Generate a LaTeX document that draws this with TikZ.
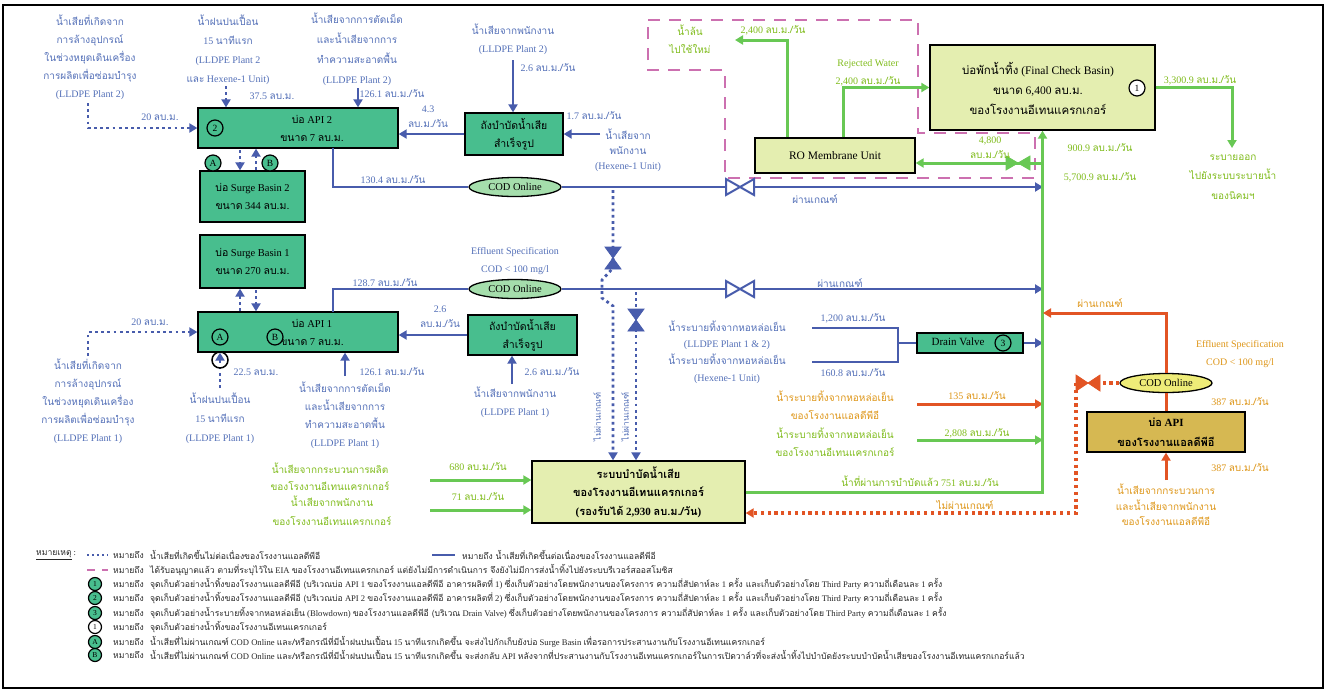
\documentclass[tikz,border=0pt]{standalone}
\usepackage{fontspec}
\setmainfont{Liberation Serif}
\newfontfamily\thaifont[Script=Thai]{Loma}
\newcommand\tha[1]{{\thaifont #1}}
\usetikzlibrary{arrows.meta,shapes.geometric}
\definecolor{boxg}{RGB}{72,190,142}
\definecolor{boxl}{RGB}{228,238,176}
\definecolor{boxo}{RGB}{214,184,82}
\definecolor{lblue}{RGB}{72,92,172}
\definecolor{tblue}{RGB}{84,112,184}
\definecolor{lgreen}{RGB}{104,200,84}
\definecolor{tgreen}{RGB}{128,188,28}
\definecolor{lred}{RGB}{226,84,36}
\definecolor{torange}{RGB}{222,150,24}
\definecolor{pinkd}{RGB}{204,112,176}
\definecolor{codg}{RGB}{165,222,172}
\definecolor{cody}{RGB}{238,236,120}
\newcommand\hvalve[5]{\draw[#5] ({#1-#3},{#2-#4}) -- ({#1+#3},{#2+#4}) -- ({#1+#3},{#2-#4}) -- ({#1-#3},{#2+#4}) -- cycle;}
\newcommand\vvalve[5]{\draw[#5] ({#1-#3},{#2-#4}) -- ({#1+#3},{#2-#4}) -- ({#1-#3},{#2+#4}) -- ({#1+#3},{#2+#4}) -- cycle;}
\begin{document}
\begin{tikzpicture}[x=1pt,y=-1pt,
 lbl/.style={inner sep=0pt, align=center, font=\fontsize{10}{18}\selectfont},
 bl/.style={lbl, text=tblue},
 gl/.style={lbl, text=tgreen},
 ol/.style={lbl, text=torange},
 boxtxt/.style={inner sep=0pt, align=center, font=\fontsize{10.5}{18}\selectfont},
 gbox/.style={draw=black, line width=1.3pt, fill=boxg, inner sep=0pt, align=center, font=\fontsize{10.5}{18}\selectfont},
 lbox/.style={draw=black, line width=1.3pt, fill=boxl, inner sep=0pt, align=center, font=\fontsize{10.5}{18}\selectfont},
 obox/.style={draw=black, line width=1.3pt, fill=boxo, inner sep=0pt, align=center, font=\fontsize{10.5}{20}\selectfont},
 tip/.style={-{Triangle[length=8pt,width=9pt]}},
 bline/.style={draw=lblue, line width=2.8pt},
 gline/.style={draw=lgreen, line width=3pt},
 rline/.style={draw=lred, line width=3pt},
 bdot/.style={draw=lblue, line width=2.8pt, dash pattern=on 2.8pt off 3.4pt},
 rdot/.style={draw=lred, line width=3.2pt, dash pattern=on 3.2pt off 3.6pt},
 pdash/.style={draw=pinkd, line width=2.2pt, dash pattern=on 12pt off 9pt},
 mk/.style={circle, draw=black, line width=1.2pt, fill=boxg, minimum size=16pt, inner sep=0pt, font=\fontsize{9.5}{9.5}\selectfont},
 cod/.style={ellipse, draw=black, line width=1.3pt, fill=codg, minimum width=92pt, minimum height=19pt, inner sep=0pt, font=\fontsize{10.5}{10.5}\selectfont},
 lg/.style={inner sep=0pt, anchor=west, font=\fontsize{8.6}{10}\selectfont, text=black!85},
 lmk/.style={mk, minimum size=13pt, font=\fontsize{7.5}{7.5}\selectfont}]
\useasboundingbox (0,0) rectangle (1327,697);
\fill[white] (0,0) rectangle (1327,697);
\draw[line width=1.8pt] (3,5) rectangle (1323,688);

% pink dashed planned area
\draw[pdash] (648,20) -- (918,20) -- (918,133) -- (1035,133) -- (1035,178) -- (725,178) -- (725,70) -- (648,70) -- cycle;

% ---------- boxes ----------
\node[gbox, minimum width=200pt, minimum height=40pt] (API2) at (298,128) {};
\node[boxtxt] (API2t) at (312,128) {\tha{บ่อ} API 2\\\tha{ขนาด} 7 \tha{ลบ.ม.}};
\node[gbox, minimum width=105pt, minimum height=51pt] (SB2) at (252.5,196.5) {\tha{บ่อ} Surge Basin 2\\\tha{ขนาด} 344 \tha{ลบ.ม.}};
\node[gbox, minimum width=98pt, minimum height=42pt] (T2) at (514,134) {\tha{ถังบำบัดน้ำเสีย}\\\tha{สำเร็จรูป}};
\node[lbox, minimum width=160pt, minimum height=35pt, font=\fontsize{11.5}{18}\selectfont] (RO) at (835,155.5) {RO Membrane Unit};
\node[lbox, minimum width=225pt, minimum height=85pt] (FCB) at (1042.5,87.5) {};
\node[boxtxt, font=\fontsize{11.5}{20}\selectfont] (FCBt) at (1038,88) {\tha{บ่อพักน้ำทิ้ง} (Final Check Basin)\\\tha{ขนาด} 6,400 \tha{ลบ.ม.}\\\tha{ของโรงงานอีเทนแครกเกอร์}};
\node[gbox, minimum width=105pt, minimum height=53pt] (SB1) at (252.5,261.5) {\tha{บ่อ} Surge Basin 1\\\tha{ขนาด} 270 \tha{ลบ.ม.}};
\node[gbox, minimum width=200pt, minimum height=40pt] (API1) at (298,332) {};
\node[boxtxt] (API1t) at (312,332) {\tha{บ่อ} API 1\\\tha{ขนาด} 7 \tha{ลบ.ม.}};
\node[gbox, minimum width=109pt, minimum height=40pt] (T1) at (522.5,335) {\tha{ถังบำบัดน้ำเสีย}\\\tha{สำเร็จรูป}};
\node[gbox, minimum width=106pt, minimum height=20pt] (DV) at (970,343) {};
\node[boxtxt, font=\fontsize{11}{11}\selectfont] (DVt) at (958,342) {Drain Valve};
\node[lbox, minimum width=213pt, minimum height=62pt, font=\fontsize{11}{18.5}\selectfont\bfseries] (TR) at (638.5,492) {\tha{ระบบบำบัดน้ำเสีย}\\\tha{ของโรงงานอีเทนแครกเกอร์}\\(\tha{รองรับได้} 2,930 \tha{ลบ.ม./วัน})};
\node[obox, minimum width=158pt, minimum height=40pt, font=\fontsize{11}{20}\selectfont\bfseries] (APIL) at (1166,432) {\tha{บ่อ} API\\\tha{ของโรงงานแอลดีพีอี}};

% ---------- blue side, top ----------
\node[bl] (t1) at (90,57) {\tha{น้ำเสียที่เกิดจาก}\\\tha{การล้างอุปกรณ์}\\\tha{ในช่วงหยุดเดินเครื่อง}\\\tha{การผลิตเพื่อซ่อมบำรุง}\\(LLDPE Plant 2)};
\node[bl, font=\fontsize{10}{19}\selectfont] (t2) at (228,49.5) {\tha{น้ำฝนปนเปื้อน}\\15 \tha{นาทีแรก}\\(LLDPE Plant 2\\\tha{และ} Hexene-1 Unit)};
\node[bl, font=\fontsize{10}{20}\selectfont] (t3) at (357,49) {\tha{น้ำเสียจากการตัดเม็ด}\\\tha{และน้ำเสียจากการ}\\\tha{ทำความสะอาดพื้น}\\(LLDPE Plant 2)};
\node[bl] (t4) at (513,39) {\tha{น้ำเสียจากพนักงาน}\\(LLDPE Plant 2)};
\node[bl, font=\fontsize{10}{15}\selectfont] (t5) at (628,150) {\tha{น้ำเสียจาก}\\\tha{พนักงาน}\\(Hexene-1 Unit)};

\coordinate (p1) at (88,103);
\draw[bdot,tip] (p1) |- (API2.west);
\node[bl] at (160,117) {20 \tha{ลบ.ม.}};
\coordinate (p2) at (226,86);
\draw[bdot,tip] (p2) -- (p2 |- API2.north);
\node[bl] at (272,96) {37.5 \tha{ลบ.ม.}};
\coordinate (p3) at (358,88);
\draw[bline,tip] (p3) -- (p3 |- API2.north);
\node[bl] at (392,94) {126.1 \tha{ลบ.ม./วัน}};
\draw[bline,tip] (T2.west) -- (API2.east |- T2.west);
\node[bl, font=\fontsize{10}{15}\selectfont] at (428,117) {4.3\\\tha{ลบ.ม./วัน}};
\coordinate (p4) at (513,60);
\draw[bline,tip] (p4) -- (p4 |- T2.north);
\node[bl] at (548,68) {2.6 \tha{ลบ.ม./วัน}};
\coordinate (p5) at (600,134);
\draw[bline,tip] (p5) -- (T2.east);
\node[bl] at (594,116) {1.7 \tha{ลบ.ม./วัน}};

\node[mk] (m2) at (215,128) {2};
\node[mk] (mA2) at (213,163) {A};
\node[mk] (mB2) at (270,163) {B};
\coordinate (u1) at (240,150);
\coordinate (u2) at (256,170);
\draw[bdot,tip] (u1) -- (u1 |- SB2.north);
\draw[bdot,tip] (u2) -- (u2 |- API2.south);

% COD line 2
\node[cod] (COD2) at (515,187) {COD Online};
\draw[bline] (333,148) |- (COD2.west);
\coordinate (gx) at (1043,492);
\draw[bline,tip] (COD2.east) -- (gx |- COD2.east);
\node[bl] at (393,180) {130.4 \tha{ลบ.ม./วัน}};
\node[bl] at (815,199) {\tha{ผ่านเกณฑ์}};

% ---------- blue side, middle ----------
\node[mk] (mA1) at (220,337) {A};
\node[mk] (mB1) at (275,337) {B};
\coordinate (u3) at (240,311);
\coordinate (u4) at (256,290);
\draw[bdot,tip] (u3) -- (u3 |- SB1.south);
\draw[bdot,tip] (u4) -- (u4 |- API1.north);

\node[cod] (COD1) at (515,289) {COD Online};
\draw[bline] (333,312) |- (COD1.west);
\draw[bline,tip] (COD1.east) -- (gx |- COD1.east);
\node[bl] at (385,283) {128.7 \tha{ลบ.ม./วัน}};
\node[bl] at (515,261) {Effluent Specification\\COD < 100 mg/l};
\node[bl] at (840,283) {\tha{ผ่านเกณฑ์}};

\coordinate (q1) at (88,356);
\draw[bdot,tip] (q1) |- (API1.west);
\node[bl] at (150,322) {20 \tha{ลบ.ม.}};
\node[bl] (t6) at (88,401) {\tha{น้ำเสียที่เกิดจาก}\\\tha{การล้างอุปกรณ์}\\\tha{ในช่วงหยุดเดินเครื่อง}\\\tha{การผลิตเพื่อซ่อมบำรุง}\\(LLDPE Plant 1)};
\coordinate (q2) at (220,388);
\draw[bdot,tip] (q2) -- (q2 |- API1.south);
\node[circle, draw=black, line width=1.5pt, minimum size=16pt, inner sep=0pt] (ck) at (220,360) {};
\node[bl] at (256,372) {22.5 \tha{ลบ.ม.}};
\node[bl, font=\fontsize{10}{19}\selectfont] (t7) at (220,418) {\tha{น้ำฝนปนเปื้อน}\\15 \tha{นาทีแรก}\\(LLDPE Plant 1)};
\coordinate (q3) at (345,376);
\draw[bline,tip] (q3) -- (q3 |- API1.south);
\node[bl] at (392,372) {126.1 \tha{ลบ.ม./วัน}};
\node[bl] (t8) at (345,415) {\tha{น้ำเสียจากการตัดเม็ด}\\\tha{และน้ำเสียจากการ}\\\tha{ทำความสะอาดพื้น}\\(LLDPE Plant 1)};
\draw[bline,tip] (T1.west) -- (API1.east |- T1.west);
\node[bl, font=\fontsize{10}{15}\selectfont] at (440,317) {2.6\\\tha{ลบ.ม./วัน}};
\coordinate (q4) at (512,384);
\draw[bline,tip] (q4) -- (q4 |- T1.south);
\node[bl] at (552,372) {2.6 \tha{ลบ.ม./วัน}};
\node[bl] (t9) at (515,402) {\tha{น้ำเสียจากพนักงาน}\\(LLDPE Plant 1)};

% dotted lines to treatment
\coordinate (d1) at (613,306);
\coordinate (d2) at (636,292);
\draw[bdot,tip] (613,190) -- (613,268) -- (602,280) -- (602,298) -- (d1) -- (d1 |- TR.north);
\draw[bdot,tip] (d2) -- (d2 |- TR.north);
\vvalve{613}{258}{8}{11}{fill=lblue, draw=lblue, line width=0.8pt}
\vvalve{636}{320}{8}{11}{fill=lblue, draw=lblue, line width=0.8pt}
\node[bl, rotate=90, font=\fontsize{8.5}{8.5}\selectfont] at (597,417) {\tha{ไม่ผ่านเกณฑ์}};
\node[bl, rotate=90, font=\fontsize{8.5}{8.5}\selectfont] at (625,417) {\tha{ไม่ผ่านเกณฑ์}};

% valves on main lines
\hvalve{740}{187}{14}{8}{fill=white, draw=lblue, line width=2pt}
\hvalve{740}{289}{14}{8}{fill=white, draw=lblue, line width=2pt}

% cooling / drain valve
\node[bl, font=\fontsize{10}{16.7}\selectfont] (t10) at (727,352) {\tha{น้ำระบายทิ้งจากหอหล่อเย็น}\\(LLDPE Plant 1 \& 2)\\\tha{น้ำระบายทิ้งจากหอหล่อเย็น}\\(Hexene-1 Unit)};
\draw[bline] (812,328) -| (898,362) -- (812,362);
\draw[bline] (DV.west) -- (898,343);
\node[bl] at (853,318) {1,200 \tha{ลบ.ม./วัน}};
\node[bl] at (853,373) {160.8 \tha{ลบ.ม./วัน}};
\node[mk] (m3) at (1003,343) {3};
\draw[bline,tip] (DV.east) -- (gx |- DV.east);

% ---------- right side ----------
\node[ol] (t11) at (835,405) {\tha{น้ำระบายทิ้งจากหอหล่อเย็น}\\\tha{ของโรงงานแอลดีพีอี}};
\coordinate (r1) at (917,404);
\draw[rline,tip] (r1) -- (gx |- r1);
\node[ol] at (977,396) {135 \tha{ลบ.ม./วัน}};
\node[gl] (t13) at (835,442) {\tha{น้ำระบายทิ้งจากหอหล่อเย็น}\\\tha{ของโรงงานอีเทนแครกเกอร์}};
\coordinate (g1) at (917,440);
\draw[gline,tip] (g1) -- (gx |- g1);
\node[gl] at (977,433) {2,808 \tha{ลบ.ม./วัน}};
\node[gl] at (920,481) {\tha{น้ำที่ผ่านการบำบัดแล้ว} 751 \tha{ลบ.ม./วัน}};

% treatment inputs
\node[gl, font=\fontsize{10}{17}\selectfont] (t14) at (330,477) {\tha{น้ำเสียจากกระบวนการผลิต}\\\tha{ของโรงงานอีเทนแครกเกอร์}};
\node[gl, font=\fontsize{10}{19}\selectfont] (t15) at (332,510.5) {\tha{น้ำเสียจากพนักงาน}\\\tha{ของโรงงานอีเทนแครกเกอร์}};
\coordinate (s1) at (430,480);
\draw[gline,tip] (s1) -- (TR.west |- s1);
\node[gl] at (478,467) {680 \tha{ลบ.ม./วัน}};
\coordinate (s2) at (430,510);
\draw[gline,tip] (s2) -- (TR.west |- s2);
\node[gl] at (478,497) {71 \tha{ลบ.ม./วัน}};

% main green riser
\draw[gline,tip] (TR.east) -| (FCB.south);
\coordinate (gv) at (1043,163);
\draw[gline,tip] (gv) -- (RO.east |- gv);
\hvalve{1018}{163}{12}{7}{fill=lgreen, draw=lgreen, line width=0.8pt}
\node[gl, font=\fontsize{10}{15}\selectfont] at (990,148) {4,800\\\tha{ลบ.ม./วัน}};
\node[gl] at (1100,148) {900.9 \tha{ลบ.ม./วัน}};
\node[gl] at (1100,177) {5,700.9 \tha{ลบ.ม./วัน}};

% RO outputs
\coordinate (rc) at (735,40);
\coordinate (ro1) at (787,0);
\coordinate (ro2) at (843,0);
\draw[gline,tip] (RO.north -| ro1) |- (rc);
\node[gl] at (773,30) {2,400 \tha{ลบ.ม./วัน}};
\node[gl] (t16) at (690,39) {\tha{น้ำล้น}\\\tha{ไปใช้ใหม่}};
\draw[gline,tip] (RO.north -| ro2) |- (FCB.west);
\node[gl] at (868,64) {Rejected Water};
\node[gl] at (868,81) {2,400 \tha{ลบ.ม./วัน}};

% final discharge
\node[mk, fill=white] (m1w) at (1137,88) {1};
\coordinate (dis) at (1232,148);
\draw[gline,tip] (FCB.east) -| (dis);
\node[gl] at (1200,80) {3,300.9 \tha{ลบ.ม./วัน}};
\node[gl, font=\fontsize{10}{19.5}\selectfont] (t17) at (1233,177) {\tha{ระบายออก}\\\tha{ไปยังระบบระบายน้ำ}\\\tha{ของนิคมฯ}};

% LDPE API
\node[cod, fill=cody] (COD3) at (1166,383) {COD Online};
\draw[rline] (APIL.north) -- (COD3.south);
\coordinate (rp) at (1043,313);
\draw[rline,tip] (COD3.north) |- (rp);
\node[ol] at (1100,303) {\tha{ผ่านเกณฑ์}};
\node[ol] at (1240,354) {Effluent Specification\\COD < 100 mg/l};
\node[ol] at (1240,402) {387 \tha{ลบ.ม./วัน}};
\node[ol] at (1240,468) {387 \tha{ลบ.ม./วัน}};
\coordinate (lin) at (1166,480);
\draw[rline,tip] (lin) -- (APIL.south);
\node[ol, font=\fontsize{10}{15.5}\selectfont] (t12) at (1166,505) {\tha{น้ำเสียจากกระบวนการ}\\\tha{และน้ำเสียจากพนักงาน}\\\tha{ของโรงงานแอลดีพีอี}};
\coordinate (rv) at (1100,383);
\coordinate (rv2) at (1076,383);
\coordinate (rb) at (1076,513);
\draw[rdot] (COD3.west) -- (rv);
\draw[rdot,tip] (rv2) -- (rb) -- (TR.east |- rb);
\hvalve{1088}{383}{12}{8}{fill=lred, draw=lred, line width=0.8pt}
\node[ol] at (965,505) {\tha{ไม่ผ่านเกณฑ์}};

% ---------- legend ----------
\node[lg] (nt) at (36,555) {\underline{\tha{หมายเหตุ}} :};
\draw[draw=lblue, line width=2pt, dash pattern=on 2pt off 3pt] (87,555) -- (108,555);
\node[lg] at (113,555) {\tha{หมายถึง}};
\node[lg] at (150,555) {\tha{น้ำเสียที่เกิดขึ้นไม่ต่อเนื่องของโรงงานแอลดีพีอี}};
\draw[draw=lblue, line width=2.5pt] (432,555) -- (455,555);
\node[lg] at (462,555) {\tha{หมายถึง น้ำเสียที่เกิดขึ้นต่อเนื่องของโรงงานแอลดีพีอี}};
\draw[draw=pinkd, line width=2pt] (87,570) -- (95,570) (102,570) -- (108,570);
\node[lg] at (113,570) {\tha{หมายถึง}};
\node[lg] at (150,570) {\tha{ได้รับอนุญาตแล้ว ตามที่ระบุไว้ใน} EIA \tha{ของโรงงานอีเทนแครกเกอร์ แต่ยังไม่มีการดำเนินการ จึงยังไม่มีการส่งน้ำทิ้งไปยังระบบรีเวอร์สออสโมซิส}};
\node[lmk] (l1) at (95,584) {1};
\node[lg] at (113,584) {\tha{หมายถึง}};
\node[lg] at (150,584) {\tha{จุดเก็บตัวอย่างน้ำทิ้งของโรงงานแอลดีพีอี (บริเวณบ่อ} API 1 \tha{ของโรงงานแอลดีพีอี อาคารผลิตที่} 1) \tha{ซึ่งเก็บตัวอย่างโดยพนักงานของโครงการ ความถี่สัปดาห์ละ} 1 \tha{ครั้ง และเก็บตัวอย่างโดย} Third Party \tha{ความถี่เดือนละ} 1 \tha{ครั้ง}};
\node[lmk] (l2) at (95,598) {2};
\node[lg] at (113,598) {\tha{หมายถึง}};
\node[lg] at (150,598) {\tha{จุดเก็บตัวอย่างน้ำทิ้งของโรงงานแอลดีพีอี (บริเวณบ่อ} API 2 \tha{ของโรงงานแอลดีพีอี อาคารผลิตที่} 2) \tha{ซึ่งเก็บตัวอย่างโดยพนักงานของโครงการ ความถี่สัปดาห์ละ} 1 \tha{ครั้ง และเก็บตัวอย่างโดย} Third Party \tha{ความถี่เดือนละ} 1 \tha{ครั้ง}};
\node[lmk] (l3) at (95,613) {3};
\node[lg] at (113,613) {\tha{หมายถึง}};
\node[lg] at (150,613) {\tha{จุดเก็บตัวอย่างน้ำระบายทิ้งจากหอหล่อเย็น} (Blowdown) \tha{ของโรงงานแอลดีพีอี (บริเวณ} Drain Valve) \tha{ซึ่งเก็บตัวอย่างโดยพนักงานของโครงการ ความถี่สัปดาห์ละ} 1 \tha{ครั้ง และเก็บตัวอย่างโดย} Third Party \tha{ความถี่เดือนละ} 1 \tha{ครั้ง}};
\node[lmk, fill=white] (l4) at (95,627) {1};
\node[lg] at (113,627) {\tha{หมายถึง}};
\node[lg] at (150,627) {\tha{จุดเก็บตัวอย่างน้ำทิ้งของโรงงานอีเทนแครกเกอร์}};
\node[lmk] (l5) at (95,642) {A};
\node[lg] at (113,642) {\tha{หมายถึง}};
\node[lg] at (150,642) {\tha{น้ำเสียที่ไม่ผ่านเกณฑ์} COD Online \tha{และ/หรือกรณีที่มีน้ำฝนปนเปื้อน} 15 \tha{นาทีแรกเกิดขึ้น จะส่งไปกักเก็บยังบ่อ} Surge Basin \tha{เพื่อรอการประสานงานกับโรงงานอีเทนแครกเกอร์}};
\node[lmk] (l6) at (95,655) {B};
\node[lg] at (113,655) {\tha{หมายถึง}};
\node[lg] at (150,655) {\tha{น้ำเสียที่ไม่ผ่านเกณฑ์} COD Online \tha{และ/หรือกรณีที่มีน้ำฝนปนเปื้อน} 15 \tha{นาทีแรกเกิดขึ้น จะส่งกลับ} API \tha{หลังจากที่ประสานงานกับโรงงานอีเทนแครกเกอร์ในการเปิดวาล์วที่จะส่งน้ำทิ้งไปบำบัดยังระบบบำบัดน้ำเสียของโรงงานอีเทนแครกเกอร์แล้ว}};
\end{tikzpicture}
\end{document}
